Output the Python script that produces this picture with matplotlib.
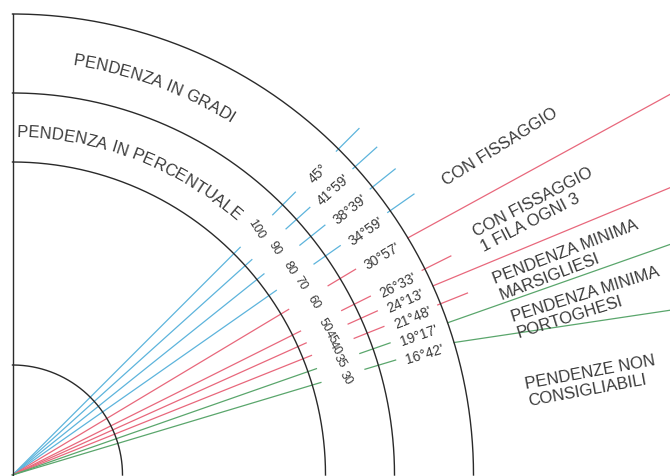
import numpy as np
import matplotlib
matplotlib.use("Agg")
import matplotlib.pyplot as plt
from matplotlib.font_manager import FontProperties
from matplotlib.textpath import TextToPath

# ---------------- data ----------------
percent_labels = ["100", "90", "80", "70", "60", "50", "45", "40", "35", "30"]
degree_labels = ["45°", "41°59'", "38°39'", "34°59'", "30°57'",
                 "26°33'", "24°13'", "21°48'", "19°17'", "16°42'"]
slope_group = ["blue"] * 4 + ["red"] * 4 + ["green"] * 2
zone_boundary = [False, False, False, False, True, False, True, False, True, True]
boundary_direction_deg = [28.7, 22.5, 19.4, 8.5]
zone_texts = ["CON FISSAGGIO",
              "CON FISSAGGIO\n1 FILA OGNI 3",
              "PENDENZA MINIMA\nMARSIGLIESI",
              "PENDENZA MINIMA\nPORTOGHESI",
              "PENDENZE NON\nCONSIGLIABILI"]
scale_titles = ["PENDENZA IN GRADI", "PENDENZA IN PERCENTUALE"]

# ---------------- style / layout ----------------
W, H, DPI = 670, 477, 100
colors = {"blue": "#5db4dc", "red": "#e8687c", "green": "#5aa66c"}
txt_col = "#3a3a3a"
FONT = "Liberation Sans"
O = np.array([12.5, 1.0])
R_OUT, R_MID, R_IN, R_SMALL = 461, 382, 313, 110
pct_label_nudge = [0.4, -1.0, -1.8, -1.2, -1.0, -0.8, -0.6, -0.3, 0.0, -0.3]

def parse_deg(s):
    d, rest = s.split("°")
    m = rest.strip("'") or "0"
    return int(d) + int(m) / 60.0

angles = [parse_deg(s) for s in degree_labels]

def pol(r, a_deg):
    a = np.radians(a_deg)
    return O[0] + r * np.cos(a), O[1] + r * np.sin(a)

fig = plt.figure(figsize=(W / DPI, H / DPI), dpi=DPI)
fig.patch.set_facecolor("white")
ax = fig.add_axes([0, 0, 1, 1])
ax.set_xlim(0, W)
ax.set_ylim(0, H)
ax.axis("off")

# arcs and vertical edge
t = np.linspace(0, 90, 400)
for R in (R_OUT, R_MID, R_IN, R_SMALL):
    xs, ys = pol(R, t)
    ax.plot(xs, ys, color="#2a2a2a", lw=1.0, zorder=3)
x0, y0 = pol(0, 90)
x1, y1 = pol(R_OUT, 90)
ax.plot([x0, x1], [y0, y1], color="#2a2a2a", lw=1.0, zorder=3)

# slope lines, ticks and labels
bi = 0
for i, a in enumerate(angles):
    c = colors[slope_group[i]]
    xa, ya = pol(0, a)
    xb, yb = pol(322, a)
    ax.plot([xa, xb], [ya, yb], color=c, lw=0.9, zorder=2)
    xa, ya = pol(368, a)
    xb, yb = pol(400, a)
    ax.plot([xa, xb], [ya, yb], color=c, lw=0.9, zorder=2)
    if zone_boundary[i]:
        xs, ys = pol(R_OUT, a)
        d = np.radians(boundary_direction_deg[bi])
        bi += 1
        L = (W - xs) / np.cos(d)
        ax.plot([xs, xs + L * np.cos(d)], [ys, ys + L * np.sin(d)],
                color=c, lw=0.9, zorder=2)
    else:
        xa, ya = pol(R_OUT - 3, a)
        xb, yb = pol(490, a)
        ax.plot([xa, xb], [ya, yb], color=c, lw=0.9, zorder=2)
    # percentage label
    px, py = pol(347, a + pct_label_nudge[i])
    ax.text(px, py, percent_labels[i], rotation=-58, rotation_mode="anchor",
            ha="center", va="center", fontsize=9, family=FONT, color=txt_col)
    # degree label
    dx, dy = pol(430, a - 0.3)
    ax.text(dx, dy, degree_labels[i], rotation=a, rotation_mode="anchor",
            ha="center", va="center", fontsize=10, family=FONT, color=txt_col)

# curved titles
ttp = TextToPath()

def char_width(c, fp):
    w1 = ttp.get_text_width_height_descent("H" + c + "H", fp, ismath=False)[0]
    w0 = ttp.get_text_width_height_descent("HH", fp, ismath=False)[0]
    return (w1 - w0) * DPI / 72.0

def curved_text(s, r_base, a_first, size):
    fp = FontProperties(family=FONT, size=size)
    widths = [char_width(c, fp) for c in s]
    pos = np.cumsum(widths) - np.array(widths) / 2.0
    pos = pos - pos[0]
    for c, p, w in zip(s, pos, widths):
        if c == " ":
            continue
        a = a_first - np.degrees(p / r_base)
        x, y = pol(r_base, a)
        ax.text(x, y, c, rotation=a - 90, rotation_mode="anchor",
                ha="center", va="baseline", fontproperties=fp, color=txt_col)

curved_text(scale_titles[0], 415, 80.9, 12)
curved_text(scale_titles[1], 339, 88.4, 12)

# zone labels
zone_pos = [(500, 330, 32.0), (537, 267, 27.5), (569, 217, 21.0),
            (588, 174, 17.4), (592, 96, 10.5)]
for s, (zx, zy, rot) in zip(zone_texts, zone_pos):
    ax.text(zx, zy, s, rotation=rot, rotation_mode="anchor", ha="center",
            va="center", multialignment="left", fontsize=12, family=FONT,
            color=txt_col, linespacing=1.15)

fig.savefig("out.png", dpi=DPI, facecolor="white")
